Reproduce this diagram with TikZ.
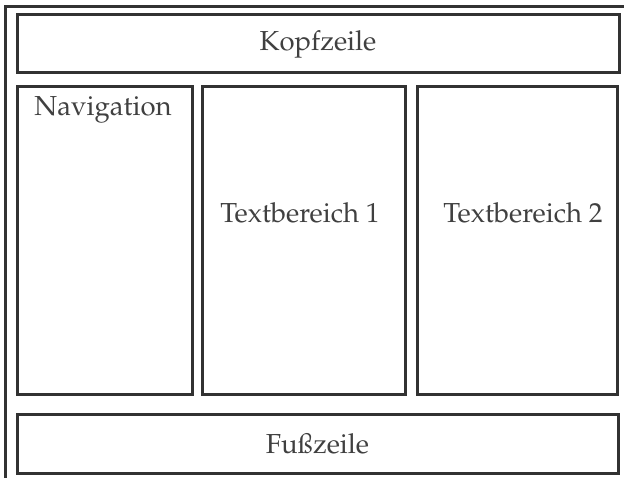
\documentclass[tikz,border=0pt]{standalone}
\usepackage[T1]{fontenc}
\usepackage{mathpazo}
\usepackage{xcolor}
\usepackage{tikz}

\definecolor{rahmen}{RGB}{50,50,50}
\definecolor{schrift}{RGB}{64,64,64}

\tikzset{
  bereich/.style={draw=rahmen,line width=3pt,inner sep=0pt},
  beschriftung/.style={text=schrift,inner sep=0pt,font=\fontsize{27.5}{32}\selectfont},
}

\begin{document}
\begin{tikzpicture}[x=1pt,y=-1pt]
\useasboundingbox (0,0) rectangle (624,478);
\clip (0,0) rectangle (624,478);

\draw[rahmen,line width=3pt] (5,7) rectangle (660,520);

\node (kopf) at (318,44)[bereich,minimum width=602pt,minimum height=58pt]{};
\node (kopftext) at (kopf.center)[beschriftung]{Kopfzeile};

\node (nav) at (104.5,240.5)[bereich,minimum width=175pt,minimum height=307pt]{};
\node (navtext) at (103,96)[below,beschriftung]{Navigation};

\node (text1) at (303.5,240.5)[bereich,minimum width=203pt,minimum height=307pt]{};
\node (text1text) at (300,213)[beschriftung]{Textbereich 1};

\node (text2) at (517,240.5)[bereich,minimum width=200pt,minimum height=307pt]{};
\node (text2text) at (523,213)[beschriftung]{Textbereich 2};

\node (fuss) at (317.5,443.5)[bereich,minimum width=601pt,minimum height=59pt]{};
\node (fusstext) at (fuss.center)[beschriftung]{Fu\ss zeile};

\end{tikzpicture}
\end{document}
